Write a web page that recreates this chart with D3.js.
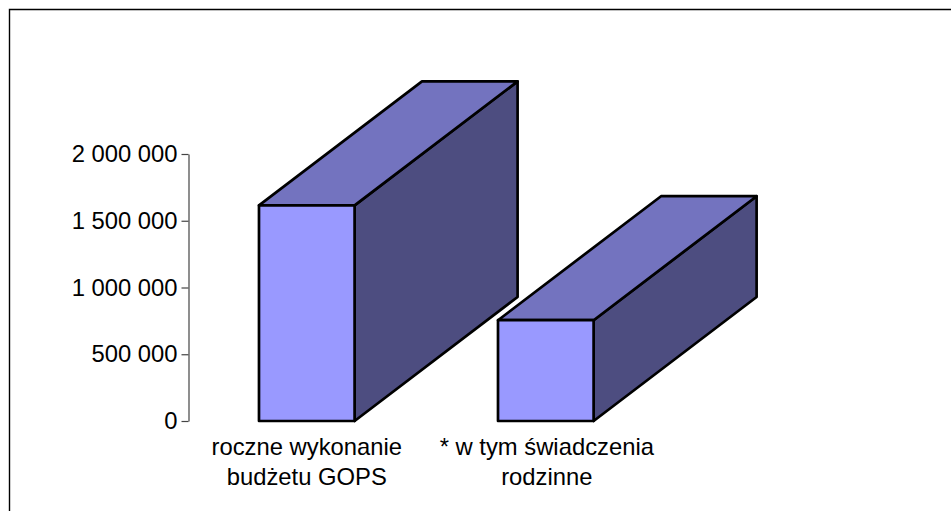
<!DOCTYPE html>
<html>
<head>
<meta charset="utf-8">
<script src="https://cdn.jsdelivr.net/npm/d3@7"></script>
<style>
  html, body { margin: 0; padding: 0; background: #fff; }
  svg { display: block; }
  text { font-family: "Liberation Sans", Arial, sans-serif; fill: #000; }
</style>
</head>
<body>
<div id="my_dataviz"></div>
<script>
// Valeurs
const categories = ["roczne wykonanie|budżetu GOPS", "* w tym świadczenia|rodzinne"]
const values = [1615000, 755000]
const tickValues = [0, 500000, 1000000, 1500000, 2000000]

const width = 951
const height = 511
const depthX = 163
const depthY = 124

const svg = d3.select("#my_dataviz")
  .append("svg")
    .attr("width", width)
    .attr("height", height)

// Cadre (haut et gauche seulement)
svg.append("path")
  .attr("d", "M9.5,511V9.5H951")
  .attr("fill", "none")
  .attr("stroke", "#000")
  .attr("stroke-width", 1.4)

const x = d3.scaleBand()
  .domain(categories)
  .range([188, 664.6])
  .paddingInner(0.6)
  .paddingOuter(0.297)

const y = d3.scaleLinear()
  .domain([0, 2000000])
  .range([421, 154])

// Axe Y
const fmt = d => d3.format(",")(d).replace(/,/g, " ")
const yAxis = svg.append("g")
  .attr("transform", "translate(188.5,0)")
  .call(d3.axisLeft(y).tickValues(tickValues).tickFormat(fmt).tickSize(7).tickSizeOuter(0).tickPadding(4))
yAxis.selectAll("path, line").attr("stroke", "#444").attr("stroke-width", 1.2)
yAxis.selectAll("text").attr("font-size", 23.8).attr("font-family", null).attr("fill", "#000")
yAxis.attr("font-size", null).attr("font-family", null)

// Barres 3D
const bars = svg.selectAll("g.bar")
  .data(categories.map((c, i) => ({ key: c, value: values[i] })))
  .join("g")
    .attr("class", "bar")
    .attr("stroke", "#000")
    .attr("stroke-width", 2.7)
    .attr("stroke-linejoin", "round")

// Face de droite
bars.append("path")
  .attr("fill", "#4d4d80")
  .attr("d", d => {
    const x1 = x(d.key) + x.bandwidth()
    return d3.line()([[x1, y(d.value)], [x1 + depthX, y(d.value) - depthY], [x1 + depthX, y(0) - depthY], [x1, y(0)]]) + "Z"
  })

// Face du dessus
bars.append("path")
  .attr("fill", "#7373bf")
  .attr("d", d => {
    const x0 = x(d.key), x1 = x0 + x.bandwidth(), t = y(d.value)
    return d3.line()([[x0, t], [x0 + depthX, t - depthY], [x1 + depthX, t - depthY], [x1, t]]) + "Z"
  })

// Face avant
bars.append("rect")
  .attr("fill", "#9999ff")
  .attr("x", d => x(d.key))
  .attr("y", d => y(d.value))
  .attr("width", x.bandwidth())
  .attr("height", d => y(0) - y(d.value))

// Libellés des catégories
svg.selectAll("text.cat")
  .data(categories)
  .join("text")
    .attr("class", "cat")
    .attr("text-anchor", "middle")
    .attr("font-size", 23.8)
    .attr("y", 454.5)
    .each(function(d) {
      const cx = x(d) + x.bandwidth() / 2 + (d[0] === "*" ? 1 : 0)
      d3.select(this).selectAll("tspan")
        .data(d.split("|"))
        .join("tspan")
          .attr("x", cx)
          .attr("dy", (l, i) => i ? 30.5 : 0)
          .text(l => l)
    })
</script>
</body>
</html>
